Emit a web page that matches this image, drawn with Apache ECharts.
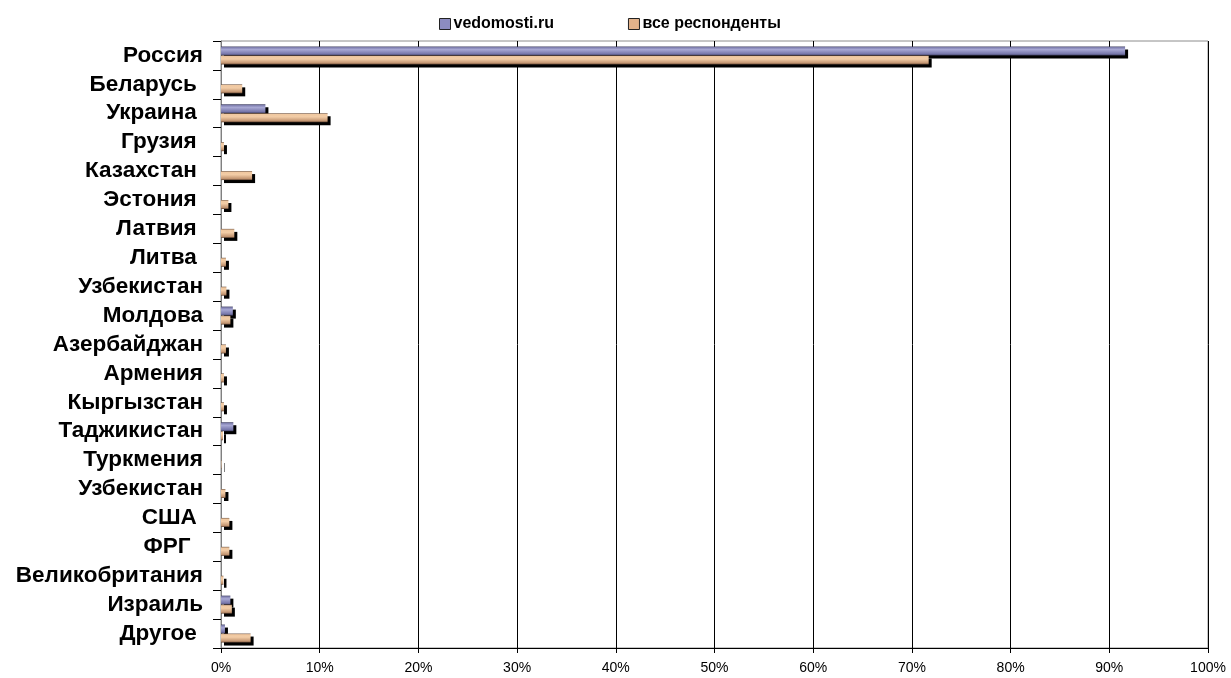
<!DOCTYPE html>
<html>
<head>
<meta charset="utf-8">
<script src="https://cdn.jsdelivr.net/npm/echarts@6/dist/echarts.min.js"></script>
<style>
html,body{margin:0;padding:0;background:#fff;}
#chart{width:1231px;height:678px;}
</style>
</head>
<body>
<div id="chart"></div>
<script>
const categories = ['Россия','Беларусь ','Украина ','Грузия ','Казахстан ','Эстония ','Латвия ','Литва ','Узбекистан','Молдова','Азербайджан','Армения','Кыргызстан','Таджикистан','Туркмения','Узбекистан','США ','ФРГ  ','Великобритания','Израиль','Другое '];
const seriesNames = ['vedomosti.ru','все респонденты'];
const vedomosti = [91.6, 0, 4.5, 0, 0, 0, 0, 0, 0, 1.2, 0, 0, 0, 1.25, 0, 0, 0, 0, 0, 0.95, 0.4];
const allResp = [71.7, 2.15, 10.8, 0.3, 3.15, 0.75, 1.35, 0.5, 0.55, 0.95, 0.5, 0.3, 0.3, 0.2, 0.05, 0.45, 0.85, 0.85, 0.25, 1.1, 3.0];
const xTicks = [0,10,20,30,40,50,60,70,80,90,100];

const purpleGrad = new echarts.graphic.LinearGradient(0,0,0,1,[
  {offset:0,color:'#3c3c5c'},{offset:0.12,color:'#8080b0'},{offset:0.35,color:'#a8a8d4'},{offset:0.85,color:'#7474a8'},{offset:1,color:'#3a3a58'}]);
const orangeGrad = new echarts.graphic.LinearGradient(0,0,0,1,[
  {offset:0,color:'#6a5040'},{offset:0.12,color:'#f0c8a0'},{offset:0.4,color:'#f2cca6'},{offset:0.85,color:'#c29470'},{offset:1,color:'#5a4030'}]);

const chart = echarts.init(document.getElementById('chart'), null, {renderer:'canvas'});
const barStyle = (c) => ({
  color: c, borderWidth:0,
  shadowColor:'#000', shadowOffsetX:3, shadowOffsetY:3, shadowBlur:0
});
chart.setOption({
  animation:false,
  backgroundColor:'#fff',
  legend:{
    top:11, left:434, itemGap:74, itemWidth:11, itemHeight:11,
    textStyle:{fontFamily:'Liberation Sans, Arial', fontWeight:'bold', fontSize:16, color:'#000', padding:[0,0,0,-2]},
    data:[
      {name:seriesNames[0], icon:'rect', itemStyle:{color:'#8c8cc0', borderColor:'#222', borderWidth:1}},
      {name:seriesNames[1], icon:'rect', itemStyle:{color:'#e2b28a', borderColor:'#222', borderWidth:1}}
    ]
  },
  grid:{left:221, right:23, top:41, bottom:30, show:true, borderColor:'#8c8c8c', borderWidth:1, containLabel:false},
  xAxis:{
    type:'value', min:0, max:100, interval:10,
    axisLine:{show:true, lineStyle:{color:'#000', width:1}},
    axisTick:{show:true, length:5, lineStyle:{color:'#000'}},
    splitLine:{show:true, lineStyle:{color:'#000', width:1}},
    axisLabel:{formatter:v=>xTicks.includes(v)?v+'%':'', fontFamily:'Liberation Sans, Arial', fontSize:14, color:'#000', margin:13}
  },
  yAxis:{
    type:'category', inverse:true, data:categories,
    axisLine:{show:true, lineStyle:{color:'#808080', width:1}},
    axisTick:{show:true, length:8, alignWithLabel:false, interval:0, lineStyle:{color:'#000'}},
    axisLabel:{interval:0, hideOverlap:false, fontFamily:'Liberation Sans, Arial', fontWeight:'bold', fontSize:22.5, color:'#000', margin:18},
    splitLine:{show:false}
  },
  series:[
    {name:seriesNames[0], type:'bar', data:vedomosti, barWidth:9, barGap:'0%', itemStyle:barStyle(purpleGrad)},
    {name:seriesNames[1], type:'bar', data:allResp, barWidth:9, barGap:'0%', itemStyle:barStyle(orangeGrad)}
  ]
});
</script>
</body>
</html>
